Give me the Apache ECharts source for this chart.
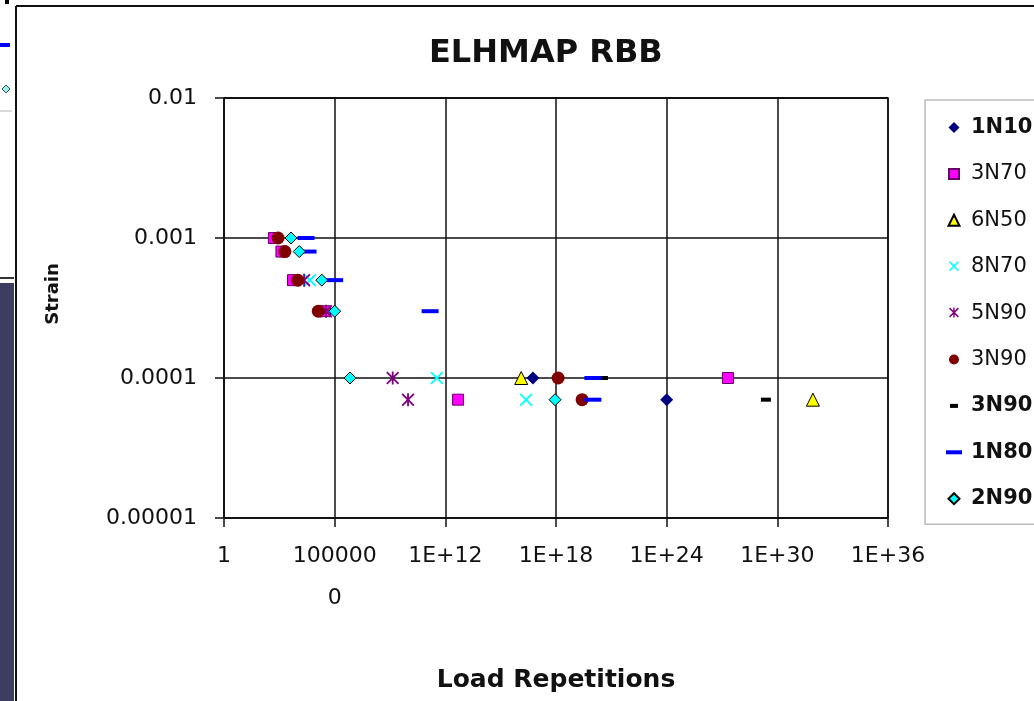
<!DOCTYPE html>
<html>
<head>
<meta charset="utf-8">
<title>ELHMAP RBB</title>
<script src="https://cdn.jsdelivr.net/npm/echarts@6/dist/echarts.min.js"></script>
<style>
  html, body { margin: 0; padding: 0; background: #fff; }
  #chart { width: 1034px; height: 701px; }
</style>
</head>
<body>
<div id="chart"></div>
<script>
// axis labels, one per 6 decades on x and per decade on y
const xTickLabels = ['1', '100000\n0', '1E+12', '1E+18', '1E+24', '1E+30', '1E+36'];
const yTickLabels = ['0.00001', '0.0001', '0.001', '0.01'];

// [load repetitions, strain] per mix
const mix1N10 = [[5.6e16, 0.0001], [1.0e24, 0.00007]];
const mix3N70 = [[5.1e2, 0.001], [1.3e3, 0.0008], [5.5e3, 0.0005], [3.0e5, 0.0003], [2.1e27, 0.0001], [4.9e12, 0.00007]];
const mix6N50 = [[1.3e16, 0.0001], [8.5e31, 0.00007]];
const mix8N70 = [[4.6e4, 0.0005], [3.5e11, 0.0001], [2.4e16, 0.00007]];
const mix5N90 = [[2.2e4, 0.0005], [3.4e5, 0.0003], [1.4e9, 0.0001], [9.5e9, 0.00007]];
const mix3N90a = [[8.5e2, 0.001], [2.0e3, 0.0008], [1.0e4, 0.0005], [1.3e5, 0.0003], [1.3e18, 0.0001], [2.6e19, 0.00007]];
const mix3N90b = [[3.5e20, 0.0001], [2.4e29, 0.00007]];
const mix1N80 = [[2.8e4, 0.001], [3.6e4, 0.0008], [1.0e6, 0.0005], [1.5e11, 0.0003], [1.0e20, 0.0001], [1.0e20, 0.00007]];
const mix2N90 = [[4.3e3, 0.001], [1.2e4, 0.0008], [2.0e5, 0.0005], [1.0e6, 0.0003], [6.8e6, 0.0001], [8.9e17, 0.00007]];

const boldNames = ['1N10', '3N90\u00a0', '1N80', '2N90'];

const FONT = 'DejaVu Sans';
const xPath = 'path://M0,1L1,0L5,4L9,0L10,1L6,5L10,9L9,10L5,6L1,10L0,9L4,5Z';
const starPath = 'path://M0,1L1,0L5,4L9,0L10,1L6,5L10,9L9,10L5,6L1,10L0,9L4,5Z M4.3,0H5.7V10H4.3Z';
// legend icons padded into a 16x11 box so they stay small
const smallSquare = 'path://M0,0M16,11M3,0.5H13V10.5H3Z';
const smallDiamond = 'path://M0,0M16,11M8,0L13.5,5.5L8,11L2.5,5.5Z';
const smallTri = 'path://M0,0M16,11M8,0L13.5,11H2.5Z';
const smallCircle = 'path://M0,0M16,11M8,0.5A5,5,0,1,1,7.99,0.5Z';
const smallX = 'path://M0,0M16,11M3,1.1L4.1,0L8,3.9L11.9,0L13,1.1L9.1,5L13,8.9L11.9,10L8,6.1L4.1,10L3,8.9L6.9,5Z';
const smallStar = smallX + ' M7.3,0H8.7V10H7.3Z';

var chart = echarts.init(document.getElementById('chart'));

function mkSeries(name, data, symbol, size, color, border, z) {
  return {
    name: name,
    type: 'scatter',
    data: data,
    symbol: symbol,
    symbolSize: size,
    z: z,
    itemStyle: {
      color: color,
      borderColor: border || color,
      borderWidth: border ? 1 : 0,
      opacity: 1
    }
  };
}

let option = {
  backgroundColor: '#fff',
  animation: false,
  title: {
    text: 'ELHMAP RBB',
    left: 424,
    top: 33,
    textStyle: {
      fontFamily: FONT,
      fontWeight: 'bold',
      fontSize: 32,
      color: '#111'
    }
  },
  grid: {
    left: 224,
    right: 146,
    top: 98,
    bottom: 183,
    show: true,
    borderColor: '#111',
    borderWidth: 1.5
  },
  legend: {
    orient: 'vertical',
    left: 925,
    top: 100,
    padding: [17, 80, 15, 20],
    itemWidth: 16,
    itemHeight: 11,
    itemGap: 25.4,
    borderColor: '#bbb',
    borderWidth: 1.5,
    backgroundColor: '#fff',
    selectedMode: false,
    formatter: function (name) {
      return boldNames.indexOf(name) >= 0 ? '{b|' + name + '}' : '{n|' + name + '}';
    },
    textStyle: {
      fontFamily: FONT,
      fontSize: 21,
      lineHeight: 21,
      color: '#111',
      rich: {
        n: { fontFamily: FONT, fontSize: 21, lineHeight: 21, color: '#111', padding: [0, 0, 0, 4] },
        b: { fontFamily: FONT, fontSize: 21, lineHeight: 21, fontWeight: 'bold', color: '#111', padding: [0, 0, 0, 4] }
      }
    },
    data: [
      { name: '1N10', icon: smallDiamond },
      { name: '3N70', icon: smallSquare },
      { name: '6N50', icon: smallTri },
      { name: '8N70', icon: smallX },
      { name: '5N90', icon: smallStar },
      { name: '3N90', icon: smallCircle },
      { name: '3N90\u00a0', icon: 'path://M0,0M16,11M4,3.5H12V7.5H4Z' },
      { name: '1N80', icon: 'path://M0,0M16,11M0,3.5H16V7.5H0Z' },
      { name: '2N90', icon: smallDiamond }
    ]
  },
  xAxis: {
    type: 'log',
    logBase: 10,
    min: 1,
    max: 1e36,
    interval: 6,
    name: 'Load Repetitions',
    nameLocation: 'middle',
    nameGap: 150,
    nameTextStyle: { fontFamily: FONT, fontWeight: 'bold', fontSize: 25, color: '#111' },
    axisLine: { lineStyle: { color: '#111', width: 1.5 } },
    axisTick: { show: true, length: 9, lineStyle: { color: '#111', width: 1.5 } },
    axisLabel: {
      margin: 17,
      fontFamily: FONT,
      fontSize: 22,
      lineHeight: 42,
      color: '#111',
      formatter: function (v) {
        return xTickLabels[Math.round(Math.log10(v) / 6)];
      }
    },
    splitLine: { show: true, lineStyle: { color: '#111', width: 1.5 } },
    minorTick: { show: false }
  },
  yAxis: {
    type: 'log',
    logBase: 10,
    min: 0.00001,
    max: 0.01,
    interval: 1,
    name: 'Strain',
    nameLocation: 'middle',
    nameGap: 162,
    nameTextStyle: { fontFamily: FONT, fontWeight: 'bold', fontSize: 18, color: '#111', padding: [0, 0, 0, 28] },
    axisLine: { show: true, lineStyle: { color: '#111', width: 1.5 } },
    axisTick: { show: true, length: 9, lineStyle: { color: '#111', width: 1.5 } },
    axisLabel: {
      margin: 27,
      fontFamily: FONT,
      fontSize: 22,
      color: '#111',
      formatter: function (v) {
        return yTickLabels[Math.round(Math.log10(v)) + 5];
      }
    },
    splitLine: { show: true, lineStyle: { color: '#111', width: 1.5 } }
  },
  series: [
    mkSeries('1N10', mix1N10, 'diamond', 13, '#000080', null, 2),
    mkSeries('3N70', mix3N70, 'rect', 11, '#ff00ff', '#660066', 3),
    mkSeries('6N50', mix6N50, 'triangle', 13, '#ffff00', '#000000', 4),
    mkSeries('8N70', mix8N70, xPath, 13, '#00ffff', null, 5),
    mkSeries('5N90', mix5N90, starPath, 13, '#800080', null, 6),
    mkSeries('3N90', mix3N90a, 'circle', 13, '#800000', null, 7),
    mkSeries('3N90\u00a0', mix3N90b, 'rect', [10, 4], '#000000', null, 8),
    mkSeries('1N80', mix1N80, 'rect', [17, 4], '#0000ff', null, 9),
    mkSeries('2N90', mix2N90, 'diamond', 12, '#00ffff', '#000000', 10)
  ],
  graphic: [
    // slide frame and strip on the left edge
    { type: 'rect', left: 0, top: 283, shape: { width: 14, height: 418 }, style: { fill: '#3d3d60' }, silent: true },
    { type: 'line', shape: { x1: 0, y1: 278, x2: 14, y2: 278 }, style: { stroke: '#333', lineWidth: 2 }, silent: true },
    { type: 'line', shape: { x1: 0, y1: 111, x2: 12, y2: 111 }, style: { stroke: '#ccc', lineWidth: 1.5 }, silent: true },
    { type: 'rect', left: 0, top: 43, shape: { width: 10, height: 4 }, style: { fill: '#0000ff' }, silent: true },
    { type: 'polygon', shape: { points: [[2, 89], [6, 85], [10, 89], [6, 93]] }, style: { fill: '#9ee', stroke: '#355', lineWidth: 1 }, silent: true },
    { type: 'rect', left: 5, top: 0, shape: { width: 4, height: 4 }, style: { fill: '#000' }, silent: true },
    { type: 'line', shape: { x1: 16, y1: 6, x2: 1034, y2: 6 }, style: { stroke: '#111', lineWidth: 2 }, silent: true },
    { type: 'line', shape: { x1: 16, y1: 6, x2: 16, y2: 701 }, style: { stroke: '#111', lineWidth: 2 }, silent: true }
  ]
};

option && chart.setOption(option);
</script>
</body>
</html>
